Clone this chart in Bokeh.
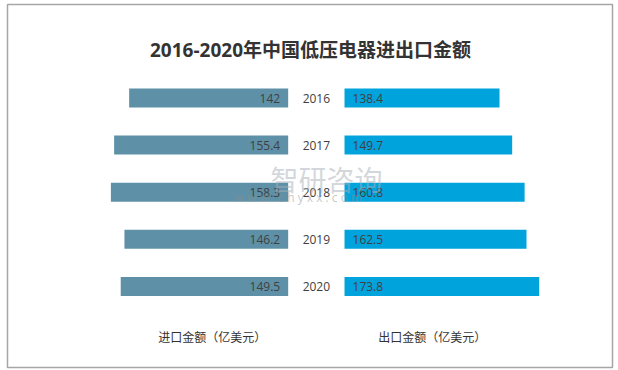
from bokeh.plotting import figure
from bokeh.models import Range1d, Label, ColumnDataSource
from bokeh.core.properties import value
from bokeh.embed import file_html
from bokeh.resources import INLINE

years = ["2016", "2017", "2018", "2019", "2020"]
imports = [142, 155.4, 158.3, 146.2, 149.5]
exports = [138.4, 149.7, 160.8, 162.5, 173.8]
title_text = "2016-2020年中国低压电器进出口金额"
left_label = "进口金额（亿美元）"
right_label = "出口金额（亿美元）"

GAP = 50.3  # central gap in value units
half = GAP / 2
idx = list(range(len(years)))

src = ColumnDataSource(dict(
    y=idx,
    year=years,
    imp_left=[-half - v for v in imports],
    imp_right=[-half] * len(years),
    exp_left=[half] * len(years),
    exp_right=[half + v for v in exports],
    imp_txt=[f"{v:g}" for v in imports],
    exp_txt=[f"{v:g}" for v in exports],
    zero=[0] * len(years),
))

# frame geometry
FL, FT, FW, FH = 7, 4, 605, 363
XS, YS = 1.12, 47.1   # px per unit
X0 = -(315.85 - FL) / XS
Y0 = -(97.5 - FT) / YS


def dx(px):
    return X0 + (px - FL) / XS


def dy(py):
    return Y0 + (py - FT) / YS


p = figure(width=618, height=370, output_backend="svg", toolbar_location=None,
           x_range=Range1d(X0, X0 + FW / XS), y_range=Range1d(Y0 + FH / YS, Y0),
           min_border_left=FL, min_border_right=618 - FL - FW,
           min_border_top=FT, min_border_bottom=370 - FT - FH)
p.axis.visible = False
p.grid.visible = False
p.outline_line_color = "#a6a6a6"
p.outline_line_width = 1.5
p.background_fill_color = "white"
p.border_fill_color = "white"

bh = 0.403
p.hbar(y="y", left="imp_left", right="imp_right", height=bh, source=src,
       fill_color="#5E91A7", line_color=None)
p.hbar(y="y", left="exp_left", right="exp_right", height=bh, source=src,
       fill_color="#00A3DC", line_color=None)

font = value("Open Sans")
p.text(x="imp_right", y="y", text="imp_txt", source=src, x_offset=-8,
       text_align="right", text_baseline="middle", text_font=font,
       text_font_size="12px", text_color="#404040")
p.text(x="exp_left", y="y", text="exp_txt", source=src, x_offset=8,
       text_align="left", text_baseline="middle", text_font=font,
       text_font_size="12px", text_color="#404040")
p.text(x="zero", y="y", text="year", source=src,
       text_align="center", text_baseline="middle", text_font=font,
       text_font_size="12px", text_color="#404040")

# watermark
p.add_layout(Label(x=dx(326), y=dy(178), text="智研咨询", text_align="center",
                   text_baseline="middle", text_font="Noto Sans CJK SC",
                   text_font_size="28px", text_color="#a8b0b8", text_alpha=0.5))
p.add_layout(Label(x=dx(298), y=dy(197), text="w w w . c h y x x . c o m",
                   text_align="center", text_baseline="middle",
                   text_font="Open Sans", text_font_size="12px",
                   text_color="#909090", text_alpha=0.5))

p.add_layout(Label(x=dx(310), y=dy(49), text=title_text, text_align="center",
                   text_baseline="middle", text_font="Open Sans, Noto Sans CJK SC",
                   text_font_style="bold", text_font_size="19px", text_color="#333333"))
p.add_layout(Label(x=dx(211.7), y=dy(336), text=left_label, text_align="center",
                   text_baseline="middle", text_font="Noto Sans CJK SC",
                   text_font_size="12px", text_color="#333333"))
p.add_layout(Label(x=dx(431.7), y=dy(336), text=right_label, text_align="center",
                   text_baseline="middle", text_font="Noto Sans CJK SC",
                   text_font_size="12px", text_color="#333333"))

open("out.html", "w").write(file_html(p, INLINE))
